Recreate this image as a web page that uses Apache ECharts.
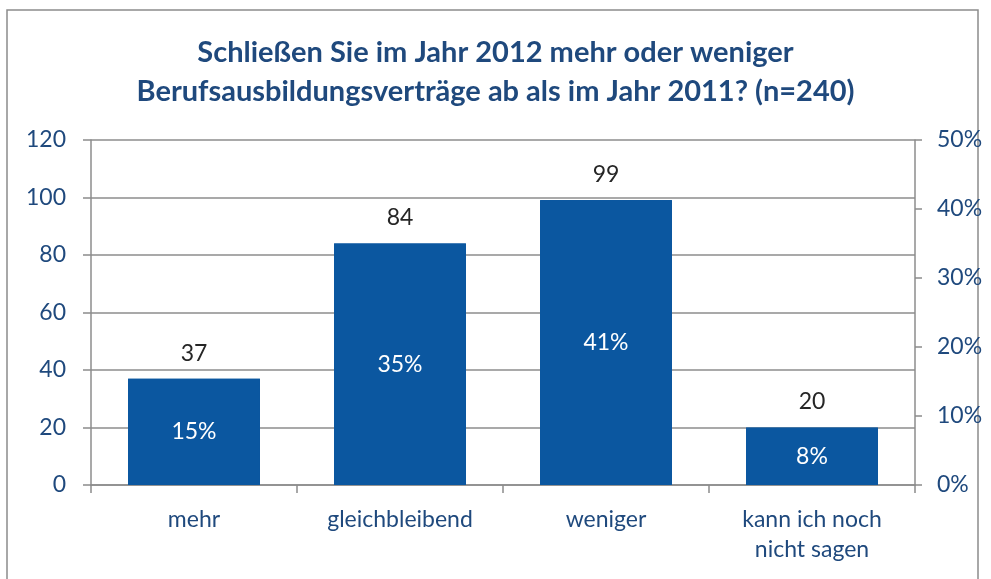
<!DOCTYPE html>
<html>
<head>
<meta charset="utf-8">
<script src="https://cdn.jsdelivr.net/npm/echarts@6/dist/echarts.min.js"></script>
<style>
  html, body { margin: 0; padding: 0; background: #fff; }
  #chart { width: 991px; height: 579px; }
</style>
</head>
<body>
<div id="chart"></div>
<script>
var categories = ['mehr', 'gleichbleibend', 'weniger', 'kann ich noch\nnicht sagen'];
var counts = [37, 84, 99, 20];
var percents = [15.4, 35.0, 41.3, 8.3];

var blue = '#0b57a0';
var textBlue = '#1f497d';
var gridGray = '#8c8c8c';
var font = 'Lato';

var chart = echarts.init(document.getElementById('chart'));
chart.setOption({
  animation: false,
  textStyle: { fontFamily: font },
  graphic: [{
    type: 'rect',
    shape: { x: 7, y: 10, width: 971, height: 600 },
    style: { fill: 'none', stroke: '#8c8c8c', lineWidth: 1.5 },
    silent: true
  }],
  title: {
    text: 'Schließen Sie im Jahr 2012 mehr oder weniger\nBerufsausbildungsverträge ab als im Jahr 2011? (n=240)',
    left: 'center',
    top: 28,
    textStyle: {
      fontFamily: font,
      fontSize: 29,
      fontWeight: 'bold',
      color: textBlue,
      lineHeight: 39
    }
  },
  grid: { left: 91, right: 76, top: 140, bottom: 94 },
  xAxis: {
    type: 'category',
    data: categories,
    axisLine: { lineStyle: { color: gridGray, width: 1.5 } },
    axisTick: { show: true, length: 8, lineStyle: { color: gridGray, width: 1.5 } },
    axisLabel: {
      color: textBlue,
      fontSize: 23,
      lineHeight: 30,
      margin: 20,
      fontFamily: font
    }
  },
  yAxis: [{
    type: 'value',
    min: 0,
    max: 120,
    interval: 20,
    axisLine: { show: true, lineStyle: { color: gridGray, width: 1.5 } },
    axisTick: { show: true, length: 8, lineStyle: { color: gridGray, width: 1.5 } },
    splitLine: { lineStyle: { color: gridGray, width: 1.5 } },
    axisLabel: { color: textBlue, fontSize: 23, margin: 25, fontFamily: font }
  }, {
    type: 'value',
    position: 'right',
    min: 0,
    max: 50,
    interval: 10,
    axisLine: { show: true, lineStyle: { color: gridGray, width: 1.5 } },
    axisTick: { show: true, length: 7, lineStyle: { color: gridGray, width: 1.5 } },
    splitLine: { show: false },
    axisLabel: { color: textBlue, fontSize: 23, margin: 22, formatter: '{value}%', fontFamily: font }
  }],
  series: [{
    name: 'Anzahl',
    type: 'bar',
    data: counts,
    barWidth: '64%',
    itemStyle: { color: blue },
    label: {
      show: true,
      position: 'top',
      distance: 14,
      color: '#262626',
      fontSize: 23,
      fontFamily: font
    }
  }, {
    name: 'Anteil',
    type: 'bar',
    yAxisIndex: 1,
    data: percents,
    barWidth: '64%',
    barGap: '-100%',
    itemStyle: { color: blue },
    label: {
      show: true,
      position: 'inside',
      color: '#ffffff',
      fontSize: 23,
      fontFamily: font,
      formatter: function (p) { return Math.round(p.value) + '%'; }
    }
  }]
});
</script>
</body>
</html>
